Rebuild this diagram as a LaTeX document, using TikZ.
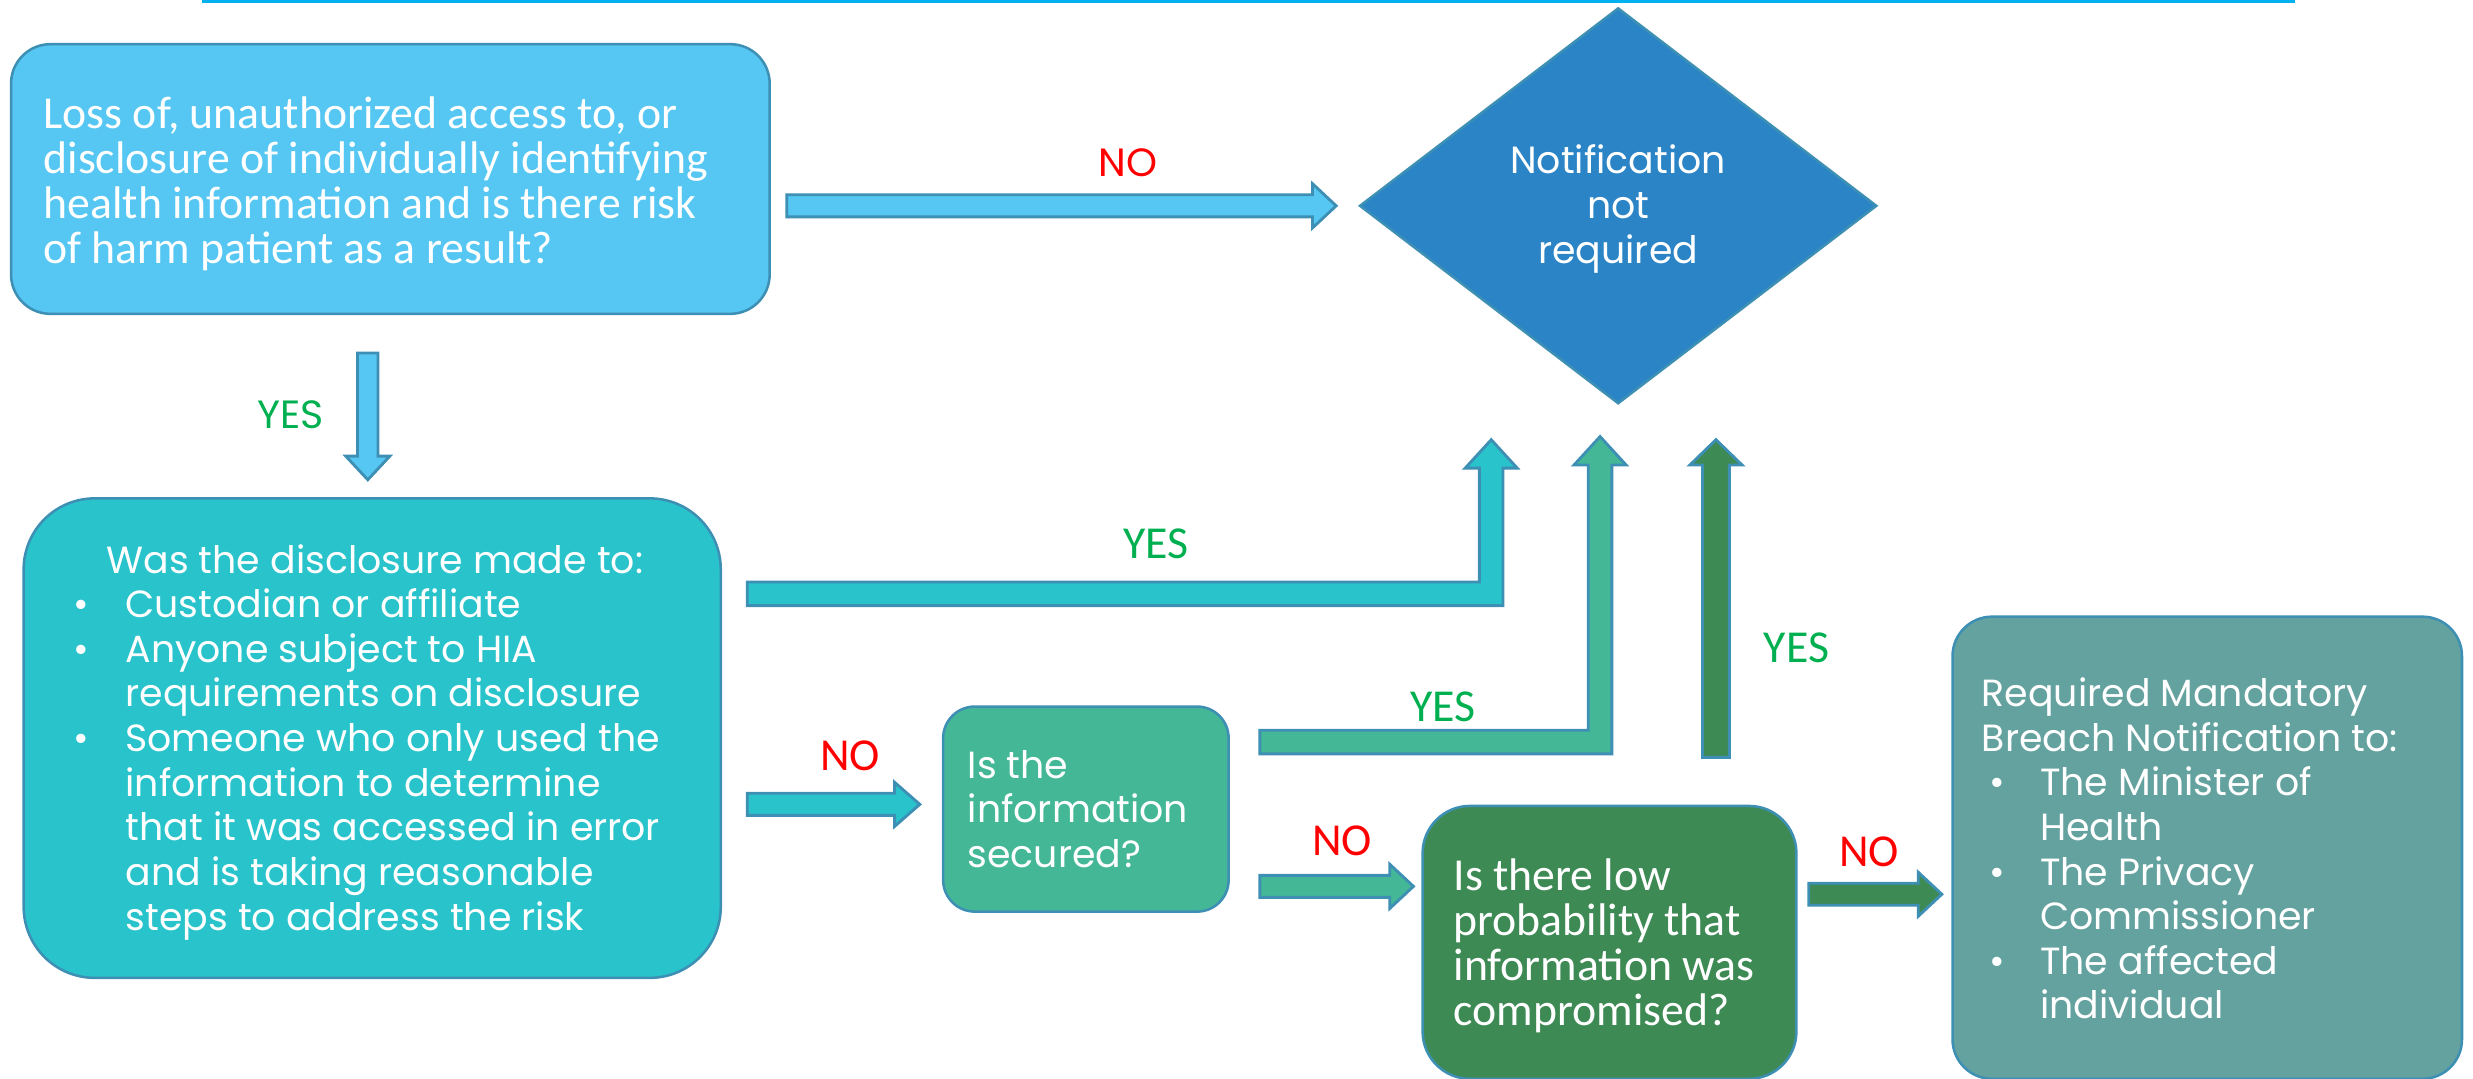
\documentclass[tikz,border=0pt]{standalone}
\usepackage{fontspec}
\setmainfont{Poppins}
\newfontfamily\carlito{Carlito}
\usetikzlibrary{calc,shapes.geometric}
\definecolor{cA}{RGB}{86,199,242}
\definecolor{cD}{RGB}{42,132,198}
\definecolor{cB}{RGB}{40,195,203}
\definecolor{cC}{RGB}{68,184,150}
\definecolor{cE}{RGB}{62,138,85}
\definecolor{cF}{RGB}{99,162,159}
\definecolor{bordc}{RGB}{62,143,180}
\definecolor{yesc}{RGB}{0,176,80}
\definecolor{noc}{RGB}{255,0,0}
\definecolor{topc}{RGB}{0,176,240}
\tikzset{
  box/.style={draw=bordc, line width=0.8pt},
  txt/.style={text=white, align=left, inner sep=0pt, anchor=west},
  popf/.style={font=\fontsize{12pt}{14.15pt}\selectfont},
  calf/.style={font=\carlito\fontsize{14.5pt}{14.3pt}\selectfont},
  barrow/.style={draw=bordc, line width=0.9pt, line join=miter},
  yeslab/.style={text=yesc, inner sep=0pt},
  nolab/.style={text=noc, inner sep=0pt},
  labpop/.style={font=\fontsize{12.5pt}{14pt}\selectfont},
  labcal/.style={font=\carlito\fontsize{14.5pt}{15pt}\selectfont},
}
\newcommand\bul{\makebox[16.5pt][l]{\textbullet}}
\newcommand\ind{\hspace*{16.5pt}}
% horizontal right arrow: start, tip, fill, shaft half, head half, head length
\newcommand\blkH[6]{\path[barrow,fill=#3] let \p1=(#1), \p2=(#2) in (\x1,\y2+#4) -- (\x2-#6,\y2+#4) -- (\x2-#6,\y2+#5) -- (\x2,\y2) -- (\x2-#6,\y2-#5) -- (\x2-#6,\y2-#4) -- (\x1,\y2-#4) -- cycle;}
\newcommand\blkU[6]{\path[barrow,fill=#3] let \p1=(#1), \p2=(#2) in (\x1-#4,\y1) -- (\x1-#4,\y2-#6) -- (\x1-#5,\y2-#6) -- (\x1,\y2) -- (\x1+#5,\y2-#6) -- (\x1+#4,\y2-#6) -- (\x1+#4,\y1) -- cycle;}
\newcommand\blkD[6]{\path[barrow,fill=#3] let \p1=(#1), \p2=(#2) in (\x1-#4,\y1) -- (\x1-#4,\y2+#6) -- (\x1-#5,\y2+#6) -- (\x1,\y2) -- (\x1+#5,\y2+#6) -- (\x1+#4,\y2+#6) -- (\x1+#4,\y1) -- cycle;}
\newcommand\blkL[6]{\path[barrow,fill=#3] let \p1=(#1), \p2=(#2) in (\x1,\y1+#4) -- (\x2-#4,\y1+#4) -- (\x2-#4,\y2-#6) -- (\x2-#5,\y2-#6) -- (\x2,\y2) -- (\x2+#5,\y2-#6) -- (\x2+#4,\y2-#6) -- (\x2+#4,\y1-#4) -- (\x1,\y1-#4) -- cycle;}
\begin{document}
\begin{tikzpicture}[x=0.5pt,y=-0.5pt]
\useasboundingbox (0,0) rectangle (1568,684);
\draw[topc, line width=0.7pt] (128,1) -- (1455,1);

% boxes
\node[box, fill=cA, minimum width=240.5pt, minimum height=85.5pt, rounded corners=12.5pt] (b1) at (247.5,113.5) {};
\node[txt, calf] (t1) at ($(b1.west)+(21,3)$) {Loss of, unauthorized access to, or\\disclosure of individually identifying\\health information and is there risk\\of harm patient as a result?};

\node[diamond, draw=bordc, line width=0.8pt, fill=cD, minimum width=164pt, minimum height=125.5pt, inner sep=0pt] (d) at (1026,130.5) {};
\node[text=white, align=center, popf, inner sep=0pt] (td) at ($(d.center)+(0,2)$) {Notification\\not\\required};

\node[box, fill=cB, minimum width=221pt, minimum height=152pt, rounded corners=22.5pt] (b2) at (236,468) {};
\node[txt, popf] (t2) at ($(b2.west)+(32,2.5)$) {\hspace*{10.5pt}Was the disclosure made to:\\\bul Custodian or affiliate\\\bul Anyone subject to HIA\\\ind requirements on disclosure\\\bul Someone who only used the\\\ind information to determine\\\ind that it was accessed in error\\\ind and is taking reasonable\\\ind steps to address the risk};

\node[box, fill=cC, minimum width=90.5pt, minimum height=65pt, rounded corners=10pt] (b3) at (688.5,513) {};
\node[txt, popf] (t3) at ($(b3.west)+(16,0)$) {Is the\\information\\secured?};

\node[box, fill=cE, minimum width=118.5pt, minimum height=86.5pt, rounded corners=15pt] (b4) at (1020.5,597.5) {};
\node[txt, calf] (t4) at ($(b4.west)+(20,2)$) {Is there low\\probability that\\information was\\compromised?};

\node[box, fill=cF, minimum width=161.5pt, minimum height=146.5pt, rounded corners=12.5pt] (b5) at (1399.5,537.5) {};
\node[txt, popf] (t5) at ($(b5.west)+(19,0.5)$) {Required Mandatory\\Breach Notification to:\\\hspace*{2.5pt}\makebox[16pt][l]{\textbullet}The Minister of\\\hspace*{18.5pt}Health\\\hspace*{2.5pt}\makebox[16pt][l]{\textbullet}The Privacy\\\hspace*{18.5pt}Commissioner\\\hspace*{2.5pt}\makebox[16pt][l]{\textbullet}The affected\\\hspace*{18.5pt}individual};

% arrow end points
\coordinate (aAs) at ($(b1.east |- d.west)+(10,0)$);
\coordinate (aAt) at ($(d.west)+(-14,0)$);
\coordinate (aBs) at ($(b1.south west)+(227,24)$);
\coordinate (aBt) at ($(aBs |- b2.north)+(0,-11)$);
\coordinate (aCs) at ($(b2.east)+(16,-91.5)$);
\coordinate (aCt) at ($(d.south)+(-80.5,22)$);
\coordinate (aDs) at ($(b3.east)+(19,-42.5)$);
\coordinate (aDt) at ($(d.south)+(-11.5,20)$);
\coordinate (aEs) at ($(b4.north)+(67.5,-30)$);
\coordinate (aEt) at ($(aEs |- d.south)+(0,22)$);
\coordinate (aFs) at ($(b2.east |- b3.west)+(16,-3)$);
\coordinate (aFt) at ($(b3.west)+(-14,-3)$);
\coordinate (aGs) at ($(b3.east)+(19,49)$);
\coordinate (aGt) at ($(b4.west |- aGs)+(-5,0)$);
\coordinate (aHs) at ($(b4.east)+(7,-30.5)$);
\coordinate (aHt) at ($(b5.west |- aHs)+(-6,0)$);

% arrows
\blkH{aAs}{aAt}{cA}{3.5pt}{7pt}{7.5pt}
\blkD{aBs}{aBt}{cA}{3.25pt}{7pt}{7.5pt}
\blkL{aCs}{aCt}{cB}{3.75pt}{8.25pt}{9pt}
\blkL{aDs}{aDt}{cC}{3.75pt}{8.25pt}{9pt}
\blkU{aEs}{aEt}{cE}{4.25pt}{8.25pt}{8pt}
\blkH{aFs}{aFt}{cB}{3.5pt}{7pt}{8pt}
\blkH{aGs}{aGt}{cC}{3.5pt}{7pt}{7.5pt}
\blkH{aHs}{aHt}{cE}{3.5pt}{7pt}{7.5pt}

% labels
\node[nolab, labpop] (lno1) at (715,103) {NO};
\node[yeslab, labpop] (lyes1) at (184,263) {YES};
\node[yeslab, labcal] (lyes2) at (733,345) {YES};
\node[yeslab, labcal] (lyes3) at (915,448) {YES};
\node[yeslab, labcal] (lyes4) at (1139,411) {YES};
\node[nolab, labcal] (lno2) at (539,479) {NO};
\node[nolab, labcal] (lno3) at (851,533) {NO};
\node[nolab, labcal] (lno4) at (1185,540) {NO};
\end{tikzpicture}
\end{document}
